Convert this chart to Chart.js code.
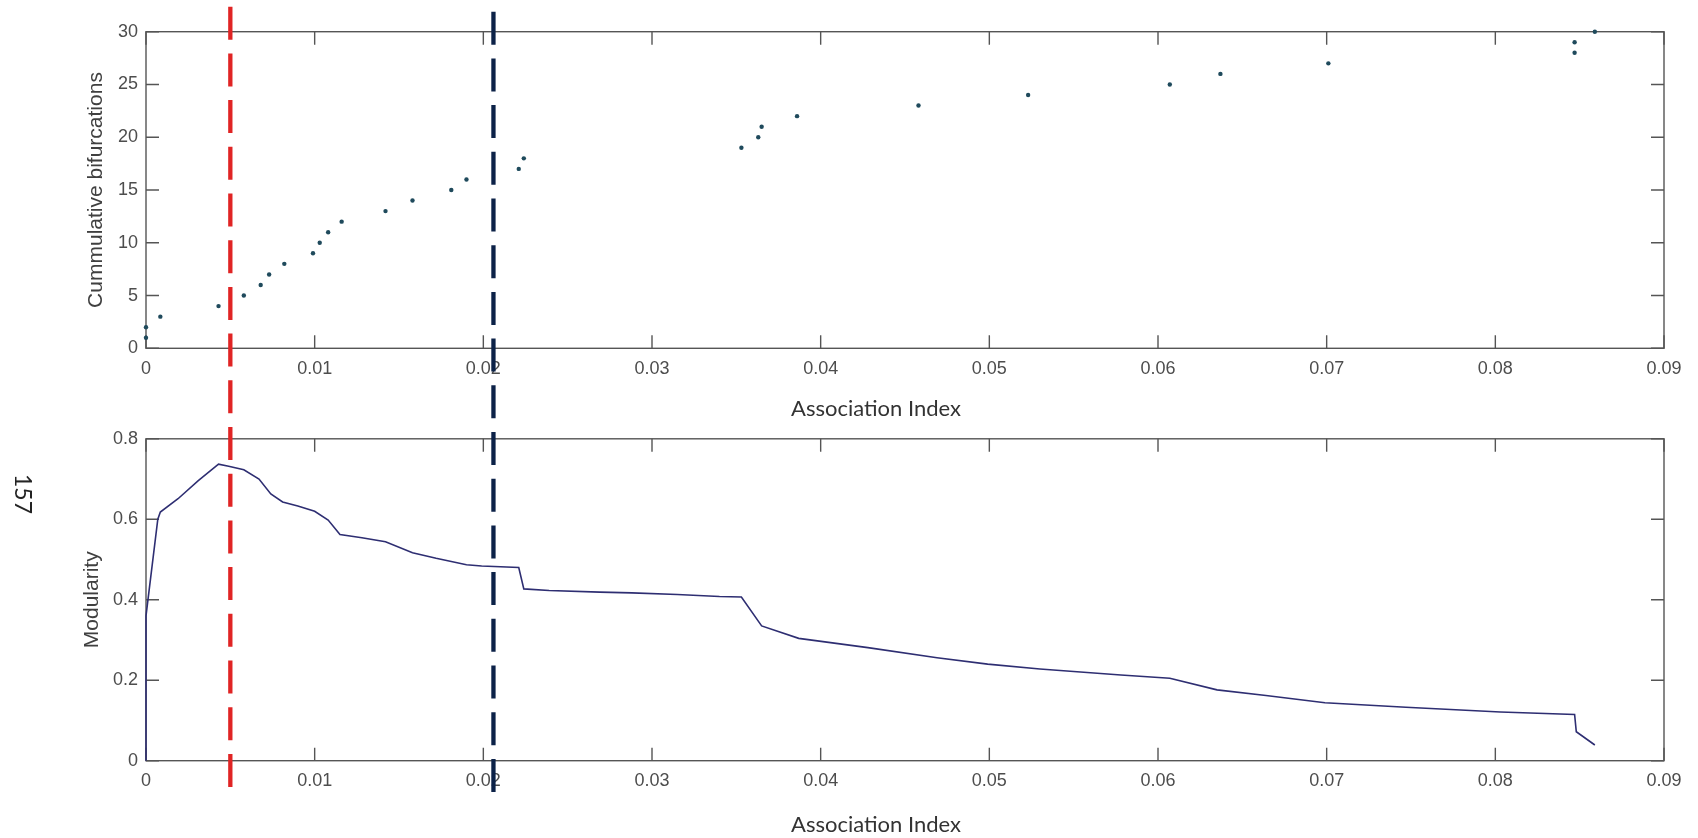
<!DOCTYPE html>
<html><head><meta charset="utf-8">
<script src="https://cdn.jsdelivr.net/npm/chart.js@4.4.1/dist/chart.umd.min.js"></script>
<style>
html,body{margin:0;padding:0;background:#fff;width:1698px;height:838px;overflow:hidden;position:relative;}
#c1{position:absolute;left:0;top:0;}
#c2{position:absolute;left:0;top:420px;}
.xt{position:absolute;font-family:Lato,"Open Sans",sans-serif;font-size:22px;color:#333;transform:translate(-50%,-50%);white-space:nowrap;}
#pg{position:absolute;left:24px;top:494px;font-family:Lato,sans-serif;font-size:23px;color:#222;transform:translate(-50%,-50%) rotate(90deg);}
</style></head><body>
<canvas id="c1" width="1698" height="420"></canvas>
<canvas id="c2" width="1698" height="418"></canvas>
<div class="xt" style="left:876px;top:407px;">Association Index</div>
<div class="xt" style="left:876px;top:823px;">Association Index</div>
<div id="pg">157</div>
<script>
// ---- data ----
const xTickLabels = ['0','0.01','0.02','0.03','0.04','0.05','0.06','0.07','0.08','0.09'];
const bifTickLabels = ['0','5','10','15','20','25','30'];
const modTickLabels = ['0','0.2','0.4','0.6','0.8'];

const bifX = [0, 0, 0.00085, 0.0043, 0.0058, 0.0068, 0.0073, 0.0082, 0.0099, 0.0103,
              0.0108, 0.0116, 0.0142, 0.0158, 0.0181, 0.0190, 0.0221, 0.0224, 0.0353, 0.0363,
              0.0365, 0.0386, 0.0458, 0.0523, 0.0607, 0.0637, 0.0701, 0.0847, 0.0847, 0.0859];
const bifY = [1, 2, 3, 4, 5, 6, 7, 8, 9, 10, 11, 12, 13, 14, 15, 16, 17, 18, 19, 20,
              21, 22, 23, 24, 25, 26, 27, 28, 29, 30];

const modX = [0, 0, 0.0007, 0.00085, 0.0019, 0.0031, 0.0043, 0.0049, 0.0058, 0.0067,
              0.0074, 0.0081, 0.0090, 0.0100, 0.0108, 0.0115, 0.0128, 0.0142, 0.0158, 0.0172,
              0.0190, 0.0199, 0.0221, 0.0224, 0.0239, 0.0269, 0.0288, 0.0315, 0.0340, 0.0353,
              0.0365, 0.0387, 0.0428, 0.0469, 0.0499, 0.0530, 0.0578, 0.0607, 0.0635, 0.0664,
              0.0699, 0.0747, 0.0803, 0.0847, 0.0848, 0.0859];
const modY = [0, 0.36, 0.600, 0.618, 0.651, 0.696, 0.737, 0.732, 0.723, 0.700,
              0.663, 0.643, 0.633, 0.620, 0.598, 0.562, 0.554, 0.544, 0.517, 0.503,
              0.487, 0.484, 0.480, 0.427, 0.423, 0.419, 0.417, 0.413, 0.408, 0.407,
              0.335, 0.304, 0.281, 0.256, 0.240, 0.228, 0.213, 0.205, 0.176, 0.162,
              0.144, 0.133, 0.121, 0.115, 0.072, 0.039];

const markerX = [0.005, 0.0206];
const markerColors = ['#e02424', '#0c2248'];
const markerStartY = [6.7, 11.7]; // page y where each dashed line begins
const markerEndY = [788, 792];

// ---- plugin: MATLAB-style box, inward ticks, dashed marker lines ----
const DASH = [33, 13.7];
const PERIOD = DASH[0] + DASH[1];
const matlabPlugin = {
  id: 'matlab',
  beforeDatasetsDraw(chart) {
    const {ctx, chartArea: a, scales} = chart;
    ctx.save();
    ctx.strokeStyle = '#555';
    ctx.lineWidth = 1.4;
    ctx.strokeRect(a.left, a.top, a.right - a.left, a.bottom - a.top);
    const L = 13;
    ctx.beginPath();
    scales.x.ticks.forEach(t => {
      const px = scales.x.getPixelForValue(t.value);
      ctx.moveTo(px, a.bottom); ctx.lineTo(px, a.bottom - L);
      ctx.moveTo(px, a.top); ctx.lineTo(px, a.top + L);
    });
    scales.y.ticks.forEach(t => {
      const py = scales.y.getPixelForValue(t.value);
      ctx.moveTo(a.left, py); ctx.lineTo(a.left + L, py);
      ctx.moveTo(a.right, py); ctx.lineTo(a.right - L, py);
    });
    ctx.stroke();
    ctx.restore();
  },
  afterDraw(chart, args, opts) {
    const {ctx, scales} = chart;
    const top = opts.pageTop, h = chart.height;
    ctx.save();
    ctx.lineWidth = 4.3;
    ctx.setLineDash(DASH);
    markerX.forEach((v, i) => {
      const px = scales.x.getPixelForValue(v);
      const y0 = Math.max(markerStartY[i], top) - top;
      const y1 = Math.min(markerEndY[i], top + h) - top;
      if (y1 <= y0) return;
      ctx.lineDashOffset = ((y0 + top - markerStartY[i]) % PERIOD);
      ctx.strokeStyle = markerColors[i];
      ctx.beginPath();
      ctx.moveTo(px, y0); ctx.lineTo(px, y1);
      ctx.stroke();
    });
    ctx.restore();
  }
};

const tickFont = {family: '"Liberation Sans", Arial, sans-serif', size: 18};
const titleFont = {family: '"Liberation Sans", Arial, sans-serif', size: 21};

function xScale(h) {
  return {
    type: 'linear', min: 0, max: 0.09,
    grid: {display: false, drawTicks: false}, border: {display: false},
    ticks: {stepSize: 0.01, autoSkip: false, maxRotation: 0, padding: 10,
            color: '#4d4d4d', font: tickFont,
            callback: (v, i) => xTickLabels[i]},
    afterFit: s => { s.height = h; }
  };
}

// ---- top chart ----
new Chart(document.getElementById('c1'), {
  type: 'scatter',
  data: {datasets: [{
    data: bifX.map((x, i) => ({x, y: bifY[i]})),
    pointRadius: 2.2, pointBorderWidth: 0,
    pointBackgroundColor: '#1f4a5c', clip: false
  }]},
  options: {
    responsive: false, animation: false, devicePixelRatio: 1,
    layout: {padding: {left: 0, right: 34, top: 31.7, bottom: 0}},
    plugins: {legend: {display: false}, tooltip: {enabled: false}, matlab: {pageTop: 0}},
    scales: {
      x: xScale(71.7),
      y: {
        type: 'linear', min: 0, max: 30,
        grid: {display: false, drawTicks: false}, border: {display: false},
        ticks: {stepSize: 5, padding: 8, color: '#4d4d4d', font: tickFont,
                callback: (v, i) => bifTickLabels[i]},
        title: {display: true, text: 'Cummulative bifurcations', color: '#404040',
                font: titleFont, padding: {top: 84, bottom: 0}},
        afterFit: s => { s.width = 146; }
      }
    }
  },
  plugins: [matlabPlugin]
});

// ---- bottom chart ----
new Chart(document.getElementById('c2'), {
  type: 'scatter',
  data: {datasets: [{
    data: modX.map((x, i) => ({x, y: modY[i]})),
    showLine: true, pointRadius: 0, borderColor: '#2e2e72', borderWidth: 1.6,
    clip: false
  }]},
  options: {
    responsive: false, animation: false, devicePixelRatio: 1,
    layout: {padding: {left: 0, right: 34, top: 16, bottom: 0}},
    plugins: {legend: {display: false}, tooltip: {enabled: false}, matlab: {pageTop: 420}},
    scales: {
      x: xScale(77.3),
      y: {
        type: 'linear', min: 0, max: 0.8,
        grid: {display: false, drawTicks: false}, border: {display: false},
        ticks: {stepSize: 0.2, padding: 8, color: '#4d4d4d', font: tickFont,
                callback: (v, i) => modTickLabels[i]},
        title: {display: true, text: 'Modularity', color: '#404040',
                font: titleFont, padding: {top: 80, bottom: 0}},
        afterFit: s => { s.width = 146; }
      }
    }
  },
  plugins: [matlabPlugin]
});
</script>
</body></html>
